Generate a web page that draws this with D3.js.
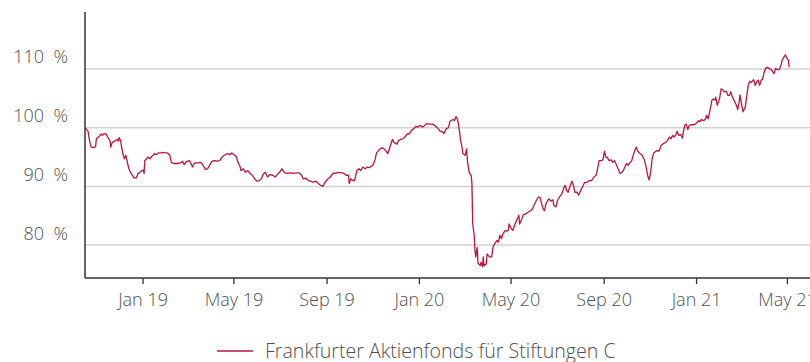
<!DOCTYPE html>
<html>
<head>
<meta charset="utf-8">
<script src="https://cdn.jsdelivr.net/npm/d3@7/dist/d3.min.js"></script>
<style>
  html, body { margin: 0; padding: 0; background: #fff; }
  svg { display: block; font-family: "Open Sans", sans-serif; }
</style>
</head>
<body>
<svg id="chart" width="810" height="362"></svg>
<script>
// Fund performance, indexed (%)
const seriesName = "Frankfurter Aktienfonds für Stiftungen C";

const dates = [
  "2018-10-17","2018-10-21","2018-10-23","2018-10-25","2018-10-29","2018-10-31","2018-11-01","2018-11-04",
  "2018-11-07","2018-11-09","2018-11-11","2018-11-14","2018-11-16","2018-11-19","2018-11-20","2018-11-22",
  "2018-11-25","2018-11-28","2018-11-30","2018-12-01","2018-12-03","2018-12-04","2018-12-06","2018-12-08",
  "2018-12-10","2018-12-12","2018-12-14","2018-12-16","2018-12-18","2018-12-21","2018-12-24","2018-12-26",
  "2018-12-28","2018-12-30","2019-01-02","2019-01-03","2019-01-04","2019-01-06","2019-01-08","2019-01-11",
  "2019-01-13","2019-01-15","2019-01-17","2019-01-19","2019-01-22","2019-01-26","2019-01-28","2019-01-31",
  "2019-02-03","2019-02-06","2019-02-08","2019-02-11","2019-02-16","2019-02-20","2019-02-23","2019-02-25",
  "2019-02-27","2019-03-02","2019-03-04","2019-03-06","2019-03-08","2019-03-10","2019-03-13","2019-03-16",
  "2019-03-19","2019-03-22","2019-03-25","2019-03-28","2019-03-31","2019-04-03","2019-04-06","2019-04-10",
  "2019-04-13","2019-04-16","2019-04-19","2019-04-23","2019-04-26","2019-04-29","2019-05-03","2019-05-05",
  "2019-05-07","2019-05-10","2019-05-11","2019-05-14","2019-05-17","2019-05-20","2019-05-23","2019-05-26",
  "2019-05-29","2019-06-01","2019-06-04","2019-06-07","2019-06-09","2019-06-12","2019-06-15","2019-06-18",
  "2019-06-22","2019-06-25","2019-06-28","2019-07-01","2019-07-04","2019-07-07","2019-07-10","2019-07-15",
  "2019-07-19","2019-07-23","2019-07-27","2019-07-30","2019-08-01","2019-08-05","2019-08-08","2019-08-11",
  "2019-08-14","2019-08-18","2019-08-21","2019-08-24","2019-08-27","2019-08-30","2019-09-03","2019-09-06",
  "2019-09-10","2019-09-13","2019-09-16","2019-09-20","2019-09-23","2019-09-27","2019-09-30","2019-10-01",
  "2019-10-03","2019-10-06","2019-10-08","2019-10-11","2019-10-14","2019-10-16","2019-10-19","2019-10-22",
  "2019-10-25","2019-10-28","2019-11-01","2019-11-04","2019-11-06","2019-11-10","2019-11-13","2019-11-16",
  "2019-11-18","2019-11-21","2019-11-24","2019-11-27","2019-11-29","2019-12-03","2019-12-05","2019-12-08",
  "2019-12-11","2019-12-14","2019-12-17","2019-12-19","2019-12-22","2019-12-25","2019-12-28","2019-12-31",
  "2020-01-02","2020-01-06","2020-01-09","2020-01-11","2020-01-15","2020-01-19","2020-01-22","2020-01-25",
  "2020-01-29","2020-02-01","2020-02-03","2020-02-06","2020-02-09","2020-02-11","2020-02-15","2020-02-17",
  "2020-02-19","2020-02-21","2020-02-22","2020-02-24","2020-02-25","2020-02-27","2020-02-28","2020-03-02",
  "2020-03-04","2020-03-05","2020-03-07","2020-03-08","2020-03-10","2020-03-11","2020-03-12","2020-03-14",
  "2020-03-15","2020-03-16","2020-03-18","2020-03-19","2020-03-22","2020-03-23","2020-03-25","2020-03-26",
  "2020-03-27","2020-03-30","2020-03-31","2020-04-03","2020-04-06","2020-04-08","2020-04-10","2020-04-13",
  "2020-04-15","2020-04-17","2020-04-19","2020-04-21","2020-04-24","2020-04-26","2020-04-28","2020-04-29",
  "2020-05-02","2020-05-04","2020-05-07","2020-05-10","2020-05-12","2020-05-13","2020-05-16","2020-05-18",
  "2020-05-21","2020-05-24","2020-05-28","2020-05-30","2020-06-01","2020-06-04","2020-06-07","2020-06-09",
  "2020-06-11","2020-06-13","2020-06-15","2020-06-17","2020-06-19","2020-06-21","2020-06-23","2020-06-26",
  "2020-06-27","2020-06-30","2020-07-02","2020-07-04","2020-07-08","2020-07-10","2020-07-12","2020-07-14",
  "2020-07-16","2020-07-19","2020-07-21","2020-07-23","2020-07-25","2020-07-28","2020-07-30","2020-08-02",
  "2020-08-04","2020-08-07","2020-08-10","2020-08-13","2020-08-16","2020-08-19","2020-08-22","2020-08-23",
  "2020-08-26","2020-08-29","2020-08-31","2020-09-02","2020-09-04","2020-09-06","2020-09-08","2020-09-11",
  "2020-09-13","2020-09-15","2020-09-17","2020-09-20","2020-09-22","2020-09-23","2020-09-25","2020-09-27",
  "2020-09-29","2020-10-01","2020-10-03","2020-10-06","2020-10-08","2020-10-10","2020-10-12","2020-10-14",
  "2020-10-16","2020-10-19","2020-10-22","2020-10-25","2020-10-27","2020-10-29","2020-10-31","2020-11-02",
  "2020-11-04","2020-11-06","2020-11-09","2020-11-11","2020-11-13","2020-11-16","2020-11-19","2020-11-22",
  "2020-11-24","2020-11-27","2020-11-29","2020-12-01","2020-12-03","2020-12-06","2020-12-07","2020-12-09",
  "2020-12-12","2020-12-14","2020-12-15","2020-12-17","2020-12-19","2020-12-21","2020-12-23","2020-12-26",
  "2020-12-29","2021-01-01","2021-01-04","2021-01-06","2021-01-08","2021-01-11","2021-01-13","2021-01-15",
  "2021-01-17","2021-01-19","2021-01-22","2021-01-24","2021-01-26","2021-01-27","2021-01-29","2021-02-01",
  "2021-02-03","2021-02-05","2021-02-07","2021-02-10","2021-02-12","2021-02-14","2021-02-16","2021-02-18",
  "2021-02-21","2021-02-23","2021-02-25","2021-02-27","2021-02-28","2021-03-02","2021-03-04","2021-03-07",
  "2021-03-09","2021-03-11","2021-03-13","2021-03-15","2021-03-18","2021-03-20","2021-03-22","2021-03-24",
  "2021-03-26","2021-03-28","2021-03-30","2021-04-01","2021-04-03","2021-04-05","2021-04-07","2021-04-10",
  "2021-04-12","2021-04-14","2021-04-16","2021-04-18","2021-04-21","2021-04-23","2021-04-25","2021-04-27",
  "2021-04-29","2021-05-01","2021-05-03","2021-05-04"
];

const values = [
  100.0, 99.4, 97.8, 96.7, 96.6, 96.8, 98.1, 98.4,
  98.9, 98.7, 99.0, 98.9, 98.4, 97.8, 96.7, 97.5,
  97.7, 98.0, 97.7, 98.3, 97.8, 97.0, 95.6, 94.7,
  95.3, 94.0, 93.0, 92.4, 92.0, 91.4, 91.5, 92.2,
  92.3, 92.6, 92.8, 92.2, 94.4, 94.6, 95.0, 94.7,
  95.1, 95.3, 95.6, 95.4, 95.7, 95.7, 95.8, 95.7,
  95.7, 95.3, 94.1, 93.9, 93.9, 94.0, 94.3, 93.7,
  94.1, 94.3, 94.4, 93.9, 93.3, 93.9, 94.0, 94.0,
  94.1, 93.6, 92.9, 93.0, 93.7, 94.3, 94.4, 94.3,
  94.4, 95.0, 95.3, 95.6, 95.4, 95.7, 95.3, 95.0,
  94.1, 93.3, 92.7, 93.0, 92.4, 92.7, 92.2, 91.9,
  91.3, 90.9, 91.0, 91.3, 92.0, 92.4, 91.6, 92.0,
  91.9, 91.6, 92.0, 92.4, 93.0, 92.4, 92.2, 92.3,
  92.2, 92.3, 92.3, 91.9, 91.3, 91.4, 91.0, 90.9,
  90.7, 90.9, 90.5, 90.2, 90.0, 90.7, 91.3, 91.6,
  92.3, 92.2, 92.4, 92.3, 92.3, 91.9, 91.9, 90.5,
  91.3, 91.0, 91.0, 92.7, 93.0, 92.7, 93.3, 93.0,
  93.3, 93.2, 93.6, 94.5, 95.7, 96.3, 96.6, 96.4,
  96.1, 95.6, 96.8, 98.0, 97.5, 97.2, 97.8, 98.0,
  98.1, 98.5, 99.0, 98.9, 99.5, 99.8, 100.2, 100.1,
  100.4, 100.1, 100.4, 100.7, 100.6, 100.6, 100.4, 100.0,
  99.4, 99.3, 99.0, 99.8, 100.0, 101.1, 101.4, 101.2,
  101.9, 101.4, 100.7, 99.0, 97.8, 96.7, 95.6, 95.3,
  96.4, 94.4, 92.7, 92.2, 91.9, 90.5, 83.6, 81.7,
  79.1, 78.0, 79.6, 76.9, 76.5, 77.1, 76.3, 78.0,
  76.5, 76.8, 78.5, 78.0, 78.0, 79.7, 80.2, 80.8,
  80.5, 81.7, 81.1, 81.9, 82.5, 82.4, 82.5, 83.6,
  82.8, 82.5, 83.6, 84.5, 85.1, 83.6, 84.5, 85.2,
  85.3, 85.6, 85.9, 86.2, 86.8, 87.6, 88.2, 88.1,
  87.1, 86.2, 85.9, 87.1, 87.6, 87.9, 87.5, 87.7,
  86.8, 86.5, 87.6, 88.1, 88.8, 89.6, 90.2, 89.3,
  89.0, 90.2, 90.9, 90.2, 89.0, 89.0, 88.5, 89.4,
  89.9, 90.7, 90.7, 91.0, 91.0, 91.6, 91.9, 92.4,
  94.4, 94.4, 94.5, 96.0, 95.0, 94.9, 94.4, 94.5,
  94.1, 94.4, 93.9, 93.0, 92.4, 92.2, 92.4, 92.7,
  93.3, 93.9, 93.6, 94.1, 94.4, 95.3, 96.1, 96.7,
  96.0, 95.6, 95.3, 94.4, 93.3, 91.9, 91.1, 92.4,
  94.7, 95.7, 96.0, 96.1, 96.0, 97.0, 97.3, 97.5,
  97.8, 98.4, 98.1, 98.7, 98.4, 99.0, 99.4, 98.7,
  98.8, 98.2, 99.1, 100.4, 100.6, 99.7, 100.4, 100.5,
  100.5, 100.7, 101.2, 101.0, 101.4, 101.2, 101.4, 102.1,
  101.5, 102.7, 104.7, 104.9, 104.7, 105.2, 103.8, 104.9,
  106.6, 106.5, 106.1, 106.2, 105.5, 105.5, 106.1, 105.2,
  104.4, 103.9, 103.1, 104.4, 105.6, 104.1, 102.7, 103.5,
  105.5, 107.3, 107.9, 107.7, 108.2, 107.2, 107.8, 108.1,
  107.2, 108.1, 108.3, 109.5, 110.1, 110.3, 110.1, 109.9,
  109.6, 109.2, 110.1, 109.9, 109.9, 110.6, 111.6, 112.0,
  112.4, 111.8, 111.5, 110.3
];

const yTicks = [80, 90, 100, 110];

const width = 810, height = 362;
const plot = { left: 85, top: 12, bottom: 278, right: 810 };
const lineColor = "#b8173f";
const textColor = "#505050";

const parse = d3.timeParse("%Y-%m-%d");
const data = dates.map((d, i) => ({ date: parse(d), value: values[i] }));

const svg = d3.select("#chart");

const x = d3.scaleTime()
  .domain(d3.extent(data, d => d.date))
  .range([plot.left, 789.2]);

const y = d3.scaleLinear()
  .domain([74.4, 119.7])
  .range([plot.bottom, plot.top]);

// horizontal grid
svg.append("g")
  .selectAll("line")
  .data(yTicks)
  .join("line")
  .attr("x1", plot.left)
  .attr("x2", plot.right)
  .attr("y1", d => y(d))
  .attr("y2", d => y(d))
  .attr("stroke", "#d2d2d2")
  .attr("stroke-width", 1.5);

// y labels, set slightly above their grid lines
svg.append("g")
  .selectAll("text")
  .data(yTicks)
  .join("text")
  .attr("x", 68)
  .attr("y", d => y(d) - 5.5)
  .attr("text-anchor", "end")
  .attr("fill", textColor)
  .attr("font-size", 18)
  .attr("font-weight", 300)
  .text(d => d + "\u00a0\u00a0%");

// price line
const line = d3.line()
  .x(d => x(d.date))
  .y(d => y(d.value));

svg.append("path")
  .datum(data)
  .attr("fill", "none")
  .attr("stroke", lineColor)
  .attr("stroke-width", 1.3)
  .attr("stroke-linejoin", "round")
  .attr("d", line);

// x axis
const xAxis = d3.axisBottom(x)
  .ticks(d3.timeMonth.every(4))
  .tickFormat(d3.timeFormat("%b %y"))
  .tickSizeInner(6)
  .tickSizeOuter(0)
  .tickPadding(9);

const gx = svg.append("g")
  .attr("transform", `translate(0,${plot.bottom})`)
  .call(xAxis);
gx.select(".domain").remove();
gx.selectAll(".tick line").attr("stroke", "#333").attr("stroke-width", 1.3);
gx.selectAll(".tick text")
  .attr("fill", textColor)
  .attr("font-size", 18)
  .attr("font-weight", 300)
  .attr("font-family", "Open Sans, sans-serif");

// axis lines
svg.append("line")
  .attr("x1", plot.left).attr("x2", plot.right)
  .attr("y1", plot.bottom).attr("y2", plot.bottom)
  .attr("stroke", "#333").attr("stroke-width", 1.5);
svg.append("line")
  .attr("x1", plot.left).attr("x2", plot.left)
  .attr("y1", plot.top).attr("y2", plot.bottom)
  .attr("stroke", "#333").attr("stroke-width", 1.5);

// legend
const legend = svg.append("g").attr("transform", "translate(217,351)");
legend.append("line")
  .attr("x1", 0).attr("x2", 36)
  .attr("stroke", lineColor).attr("stroke-width", 1.3);
legend.append("text")
  .attr("x", 48)
  .attr("y", 6.5)
  .attr("fill", textColor)
  .attr("font-size", 19.6)
  .attr("font-weight", 300)
  .text(seriesName);
</script>
</body>
</html>
